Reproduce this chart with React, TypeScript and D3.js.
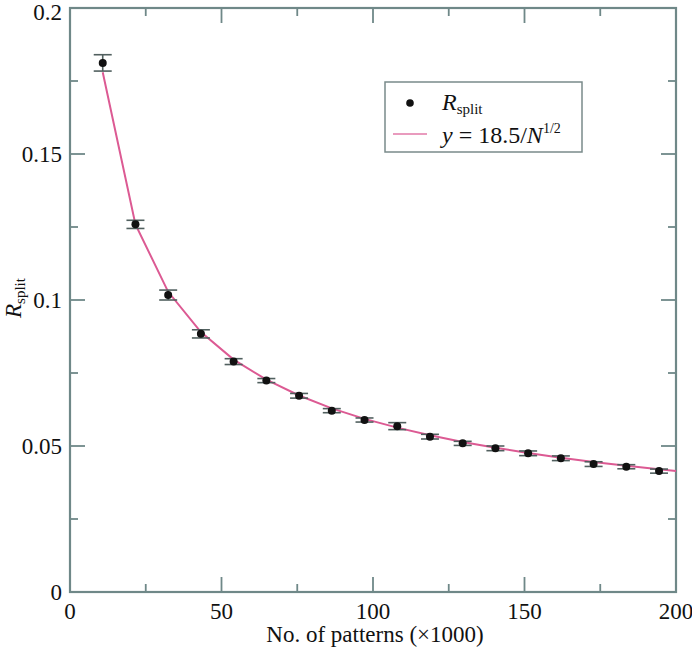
import React from "react";
import * as d3 from "d3";

const patterns = [10.8, 21.6, 32.4, 43.2, 54, 64.8, 75.6, 86.4, 97.2, 108, 118.8, 129.6, 140.4, 151.2, 162, 172.8, 183.6, 194.4];
const rsplit = [0.1812, 0.1259, 0.1017, 0.0884, 0.0789, 0.0724, 0.0672, 0.0621, 0.0589, 0.0568, 0.0532, 0.0509, 0.0492, 0.0475, 0.0458, 0.0438, 0.0429, 0.0414];
const rsplitErr = [0.0028, 0.0014, 0.0017, 0.0014, 0.001, 0.0007, 0.0008, 0.0007, 0.0007, 0.0012, 0.0008, 0.0007, 0.0008, 0.0008, 0.0008, 0.0008, 0.0007, 0.0007];
const fitX = [10.8, 21.6, 32.4, 43.2, 54, 64.8, 75.6, 86.4, 97.2, 108, 118.8, 129.6, 140.4, 151.2, 162, 172.8, 183.6, 194.4, 200];
const fitY = [0.178, 0.1259, 0.1028, 0.089, 0.0796, 0.0727, 0.0673, 0.0629, 0.0593, 0.0563, 0.0537, 0.0514, 0.0494, 0.0476, 0.046, 0.0445, 0.0432, 0.042, 0.0414];
const xMajor = [0, 50, 100, 150, 200];
const xMinor = [25, 75, 125, 175];
const yMajor = [0, 0.05, 0.1, 0.15, 0.2];
const yMinor = [0.025, 0.075, 0.125, 0.175];
const xTickLabels = ["0", "50", "100", "150", "200"];
const yTickLabels = ["0", "0.05", "0.1", "0.15", "0.2"];

const W = 692, H = 648;
const L = 70, R = 676, T = 8, B = 592;
const FONT = "Liberation Serif, DejaVu Serif, serif";
const AXIS = "#6f8888";
const LINE = "#dc5a93";
const ERR = "#51605f";

export default function App() {
  const x = d3.scaleLinear().domain([0, 200]).range([L, R]);
  const y = d3.scaleLinear().domain([0, 0.2]).range([B, T]);
  const fitLine = d3.line<number>().x((_, i) => x(fitX[i])).y((d) => y(d))(fitY) || "";
  const majLen = 15, minLen = 8;
  return (
    <svg width={W} height={H} style={{ position: "absolute", left: 0, top: 0, background: "#fff", fontFamily: FONT }}>
      <rect x={0} y={0} width={W} height={H} fill="#fff" />
      <g stroke={AXIS} strokeWidth={1.8}>
        {xMajor.map((v) => (
          <g key={"xm" + v}>
            <line x1={x(v)} x2={x(v)} y1={B} y2={B - majLen} />
            <line x1={x(v)} x2={x(v)} y1={T} y2={T + majLen} />
          </g>
        ))}
        {xMinor.map((v) => (
          <g key={"xn" + v}>
            <line x1={x(v)} x2={x(v)} y1={B} y2={B - minLen} />
            <line x1={x(v)} x2={x(v)} y1={T} y2={T + minLen} />
          </g>
        ))}
        {yMajor.map((v) => (
          <g key={"ym" + v}>
            <line x1={L} x2={L + majLen} y1={y(v)} y2={y(v)} />
            <line x1={R} x2={R - majLen} y1={y(v)} y2={y(v)} />
          </g>
        ))}
        {yMinor.map((v) => (
          <g key={"yn" + v}>
            <line x1={L} x2={L + minLen} y1={y(v)} y2={y(v)} />
            <line x1={R} x2={R - minLen} y1={y(v)} y2={y(v)} />
          </g>
        ))}
      </g>
      <rect x={L} y={T} width={R - L} height={B - T} fill="none" stroke={AXIS} strokeWidth={2.2} />
      <g fontSize={23} fill="#111">
        {xMajor.map((v, i) => (
          <text key={"xl" + v} x={x(v)} y={619} textAnchor="middle">{xTickLabels[i]}</text>
        ))}
        {yMajor.map((v, i) => (
          <text key={"yl" + v} x={62} y={Math.max(y(v) + 8, 20)} textAnchor="end">{yTickLabels[i]}</text>
        ))}
      </g>
      <text x={(L + R) / 2 + 2} y={642} fontSize={23} textAnchor="middle" fill="#111">No. of patterns (×1000)</text>
      <g transform="translate(21,318) rotate(-90)">
        <text x={0} y={0} fontSize={23} fill="#111">
          <tspan fontStyle="italic">R</tspan>
          <tspan fontSize={15} dy={4}>split</tspan>
        </text>
      </g>
      <path d={fitLine} fill="none" stroke={LINE} strokeWidth={2} />
      <g stroke={ERR} strokeWidth={1.6}>
        {patterns.map((p, i) => {
          const cx = x(p), y1 = y(rsplit[i] + rsplitErr[i]), y2 = y(rsplit[i] - rsplitErr[i]);
          return (
            <g key={"e" + i}>
              <line x1={cx} x2={cx} y1={y1} y2={y2} />
              <line x1={cx - 9} x2={cx + 9} y1={y1} y2={y1} />
              <line x1={cx - 9} x2={cx + 9} y1={y2} y2={y2} />
            </g>
          );
        })}
      </g>
      {patterns.map((p, i) => (
        <circle key={"p" + i} cx={x(p)} cy={y(rsplit[i])} r={4} fill="#111" />
      ))}
      <rect x={385} y={82} width={197} height={70} fill="#fff" stroke="#7a8a8a" strokeWidth={1.5} />
      <circle cx={410} cy={103} r={3.8} fill="#111" />
      <line x1={393} x2={427} y1={134} y2={134} stroke={LINE} strokeWidth={2} opacity={0.6} />
      <text x={442} y={110} fontSize={24} fill="#111">
        <tspan fontStyle="italic">R</tspan>
        <tspan fontSize={15} dy={4}>split</tspan>
      </text>
      <text x={442} y={143} fontSize={24} fill="#111">
        <tspan fontStyle="italic">y</tspan>
        <tspan> = 18.5/</tspan>
        <tspan fontStyle="italic">N</tspan>
        <tspan fontSize={14} dy={-10}>1/2</tspan>
      </text>
    </svg>
  );
}
